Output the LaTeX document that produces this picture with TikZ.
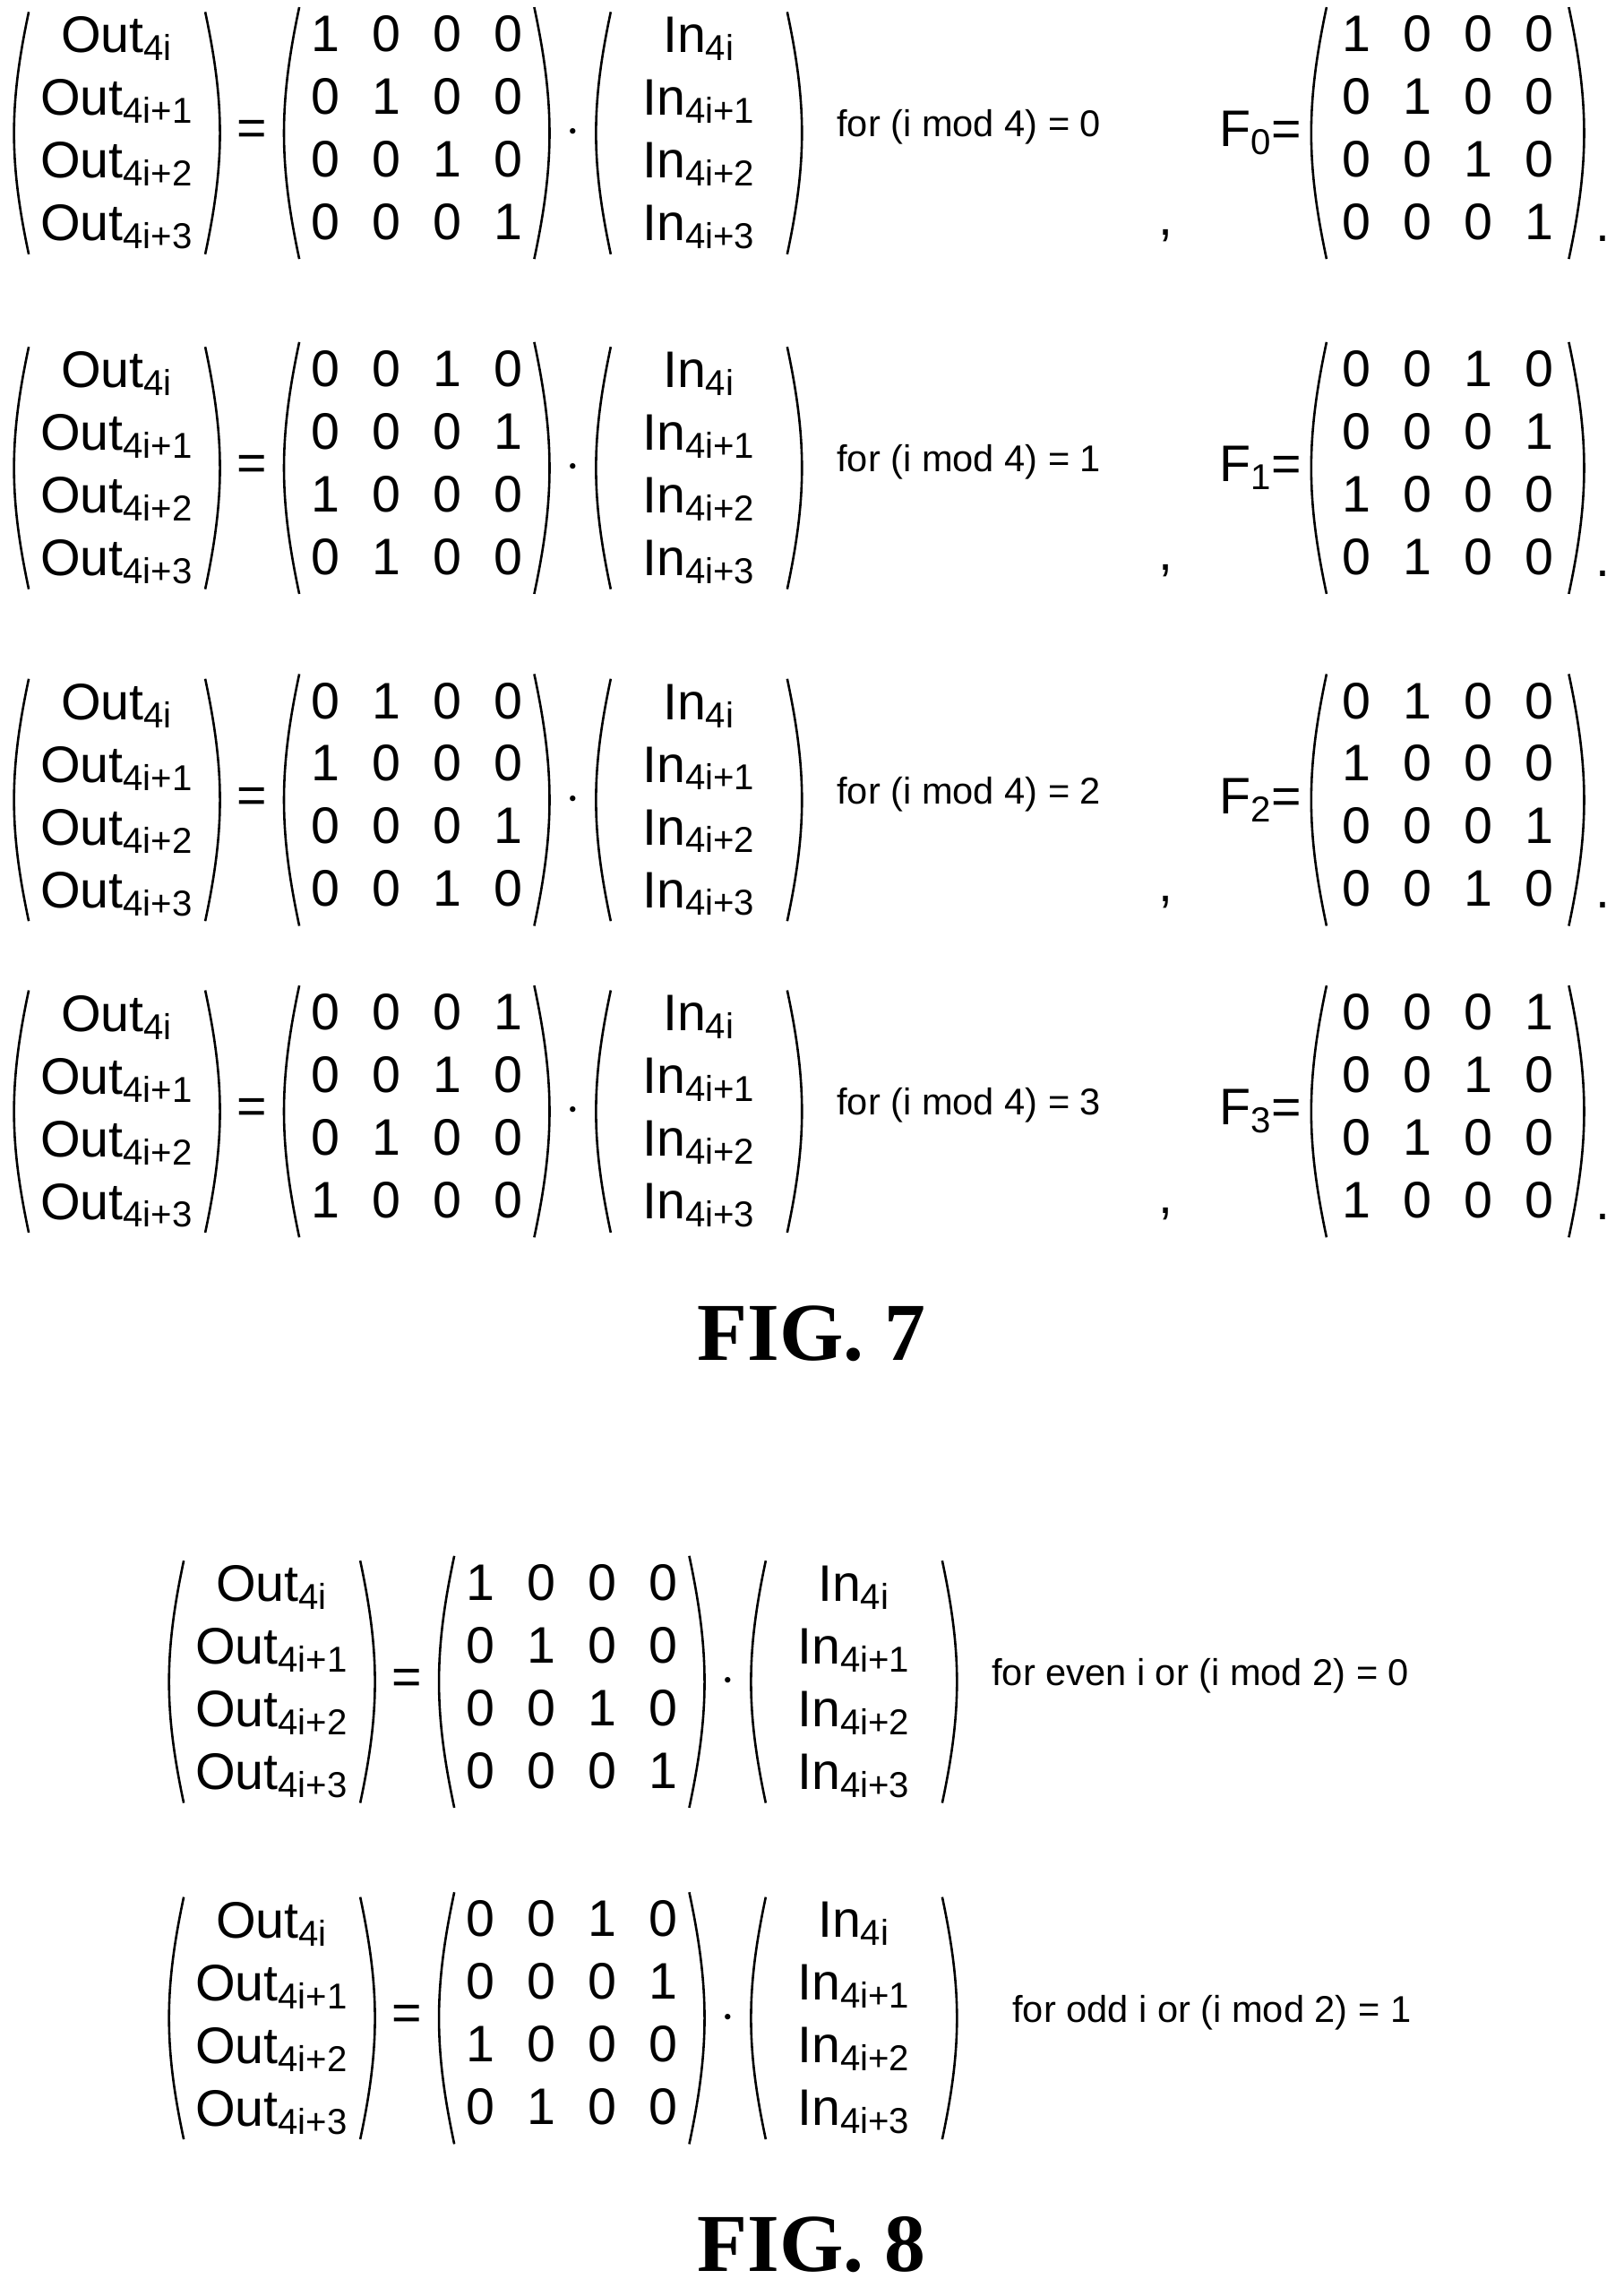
\documentclass[tikz,border=0pt]{standalone}
\usepackage{fontspec}
\setmainfont{Liberation Sans}
\newfontfamily\figfont{Liberation Serif}
\usetikzlibrary{positioning}

\newcommand{\vecout}{Out\textsubscript{4i}\\Out\textsubscript{4i+1}\\Out\textsubscript{4i+2}\\Out\textsubscript{4i+3}}
\newcommand{\vecin}{In\textsubscript{4i}\\In\textsubscript{4i+1}\\In\textsubscript{4i+2}\\In\textsubscript{4i+3}}
\newcommand{\mtx}[1]{\begin{tabular}{@{}c@{\hspace{12.6pt}}c@{\hspace{12.6pt}}c@{\hspace{12.6pt}}c@{}}#1\end{tabular}}

\tikzset{
  big/.style={font=\fontsize{20}{24.4}\selectfont, align=center, inner sep=0pt},
  vec/.style={big, minimum width=2.4cm, minimum height=3.3cm},
  mat/.style={big, minimum width=3.2cm, minimum height=3.3cm},
  lbl/.style={font=\fontsize{14.5}{17}\selectfont, anchor=west, inner sep=0pt},
  paren/.style={line width=0.9pt},
}

% one equation row: name, x shift, y, entries, label
\newcommand{\eqrow}[5]{
  \node[vec] (out#1) at (80+#2,#3) {\vecout};
  \node[big] (eq#1) at (172+#2,#3) {=};
  \node[mat] (m#1) at (285+#2,#3) {\mtx{#4}};
  \node[big] (dot#1) at (392+#2,#3) {$\cdot$};
  \node[vec] (in#1) at (478+#2,#3) {\vecin};
  \node[lbl] (lbl#1) at (572+#2,#3-4) {#5};
  \foreach \n in {out#1,m#1,in#1}{
    \draw[paren] (\n.north west) to[bend right=12] (\n.south west);
    \draw[paren] (\n.north east) to[bend left=12] (\n.south east);
  }
}
% matching F matrix
\newcommand{\frow}[4]{
  \node[big] (f#1) at (862,#2) {F\textsubscript{#3}=};
  \node[mat, minimum width=3.3cm] (fm#1) at (990,#2) {\mtx{#4}};
  \node[big] (comma#1) at (797,#2+70) {,};
  \node[big] (per#1) at (1096,#2+72) {.};
  \draw[paren] (fm#1.north west) to[bend right=12] (fm#1.south west);
  \draw[paren] (fm#1.north east) to[bend left=12] (fm#1.south east);
}

\begin{document}
\begin{tikzpicture}[x=0.02cm,y=-0.02cm]
  \useasboundingbox (0,0) rectangle (1110,1570);

  \eqrow{a}{0}{91}{1&0&0&0\\0&1&0&0\\0&0&1&0\\0&0&0&1}{for (i mod 4) = 0}
  \frow{a}{91}{0}{1&0&0&0\\0&1&0&0\\0&0&1&0\\0&0&0&1}

  \eqrow{b}{0}{320}{0&0&1&0\\0&0&0&1\\1&0&0&0\\0&1&0&0}{for (i mod 4) = 1}
  \frow{b}{320}{1}{0&0&1&0\\0&0&0&1\\1&0&0&0\\0&1&0&0}

  \eqrow{c}{0}{547}{0&1&0&0\\1&0&0&0\\0&0&0&1\\0&0&1&0}{for (i mod 4) = 2}
  \frow{c}{547}{2}{0&1&0&0\\1&0&0&0\\0&0&0&1\\0&0&1&0}

  \eqrow{d}{0}{760}{0&0&0&1\\0&0&1&0\\0&1&0&0\\1&0&0&0}{for (i mod 4) = 3}
  \frow{d}{760}{3}{0&0&0&1\\0&0&1&0\\0&1&0&0\\1&0&0&0}

  \node[font=\figfont\bfseries\fontsize{32}{36}\selectfont] (fig7) at (555,912) {FIG. 7};

  \eqrow{e}{106}{1150}{1&0&0&0\\0&1&0&0\\0&0&1&0\\0&0&0&1}{for even i or (i mod 2) = 0}
  \eqrow{f}{106}{1380}{0&0&1&0\\0&0&0&1\\1&0&0&0\\0&1&0&0}{\hspace{8pt}for odd i or (i mod 2) = 1}

  \node[font=\figfont\bfseries\fontsize{32}{36}\selectfont] (fig8) at (555,1535) {FIG. 8};
\end{tikzpicture}
\end{document}
